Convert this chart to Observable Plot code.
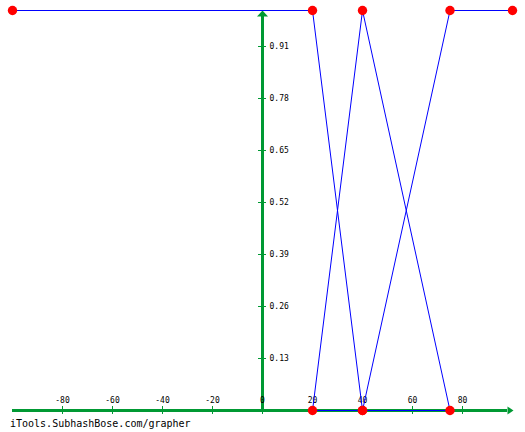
<!DOCTYPE html>
<html>
<head>
<meta charset="utf-8">
<script src="https://cdn.jsdelivr.net/npm/d3@7"></script>
<script src="https://cdn.jsdelivr.net/npm/@observablehq/plot@0.6"></script>
<style>
  html, body { margin: 0; padding: 0; background: #fff; }
  #caption { font-family: "DejaVu Sans Mono", monospace; font-size: 10px; line-height: 16px; height: 16px; margin-left: 10px; color: #000; }
</style>
</head>
<body>
<div id="chart"></div>
<div id="caption"></div>
<script>
// Data: ordered polyline vertices as plotted
const pointX = [-100, 20, 40, 20, 40, 75, 40, 75, 100];
const pointY = [1, 1, 0, 0, 1, 0, 0, 1, 1];
const xTicks = [-80, -60, -40, -20, 0, 20, 40, 60, 80];
const yTicks = [0.13, 0.26, 0.39, 0.52, 0.65, 0.78, 0.91];
const yTickLabels = ["0.13", "0.26", "0.39", "0.52", "0.65", "0.78", "0.91"];
const captionText = "iTools.SubhashBose.com/grapher";

const points = pointX.map((x, i) => ({x, y: pointY[i]}));

const green = "#009933";
const arrowUp = {draw(ctx) { ctx.moveTo(0, 0); ctx.lineTo(5.5, 6); ctx.lineTo(-5.5, 6); ctx.closePath(); }};
const arrowRight = {draw(ctx) { ctx.moveTo(1, 0); ctx.lineTo(-5, 4); ctx.lineTo(-5, -4); ctx.closePath(); }};
const font = "DejaVu Sans Mono, monospace";

const chart = Plot.plot({
  width: 525,
  height: 416,
  marginLeft: 12,
  marginRight: 13,
  marginTop: 10,
  marginBottom: 6,
  x: {domain: [-100, 100], axis: null},
  y: {domain: [0, 1], axis: null},
  style: {background: "#fff", overflow: "visible"},
  marks: [
    Plot.ruleY([0], {x1: -100, x2: 98, stroke: green, strokeWidth: 3}),
    Plot.ruleX([0], {y1: 0, y2: 0.985, stroke: green, strokeWidth: 3}),
    Plot.ruleX(xTicks, {x: d => d, y1: 0, y2: 0, insetTop: -4, insetBottom: -4, stroke: green, strokeWidth: 1}),
    Plot.ruleY(yTicks, {y: d => d, x1: 0, x2: 0, insetLeft: -4, insetRight: -4, stroke: green, strokeWidth: 1}),
    Plot.dot([{x: 0, y: 1}], {x: "x", y: "y", symbol: arrowUp, fill: green, stroke: "none"}),
    Plot.dot([{x: 100, y: 0}], {x: "x", y: "y", symbol: arrowRight, fill: green, stroke: "none"}),
    Plot.text(xTicks, {x: d => d, y: 0, dy: -10.5, text: d => String(d), fontFamily: font, fontSize: 8, fill: "#000"}),
    Plot.text(yTicks, {x: 0, y: d => d, dx: 7, text: (d, i) => yTickLabels[i], textAnchor: "start", fontFamily: font, fontSize: 8, fill: "#000"}),
    Plot.line(points, {x: "x", y: "y", stroke: "#0000ff", strokeWidth: 1}),
    Plot.dot(points, {x: "x", y: "y", r: 4.7, fill: "#ff0000", stroke: "none"})
  ]
});
document.getElementById("chart").appendChild(chart);
document.getElementById("caption").textContent = captionText;
</script>
</body>
</html>
